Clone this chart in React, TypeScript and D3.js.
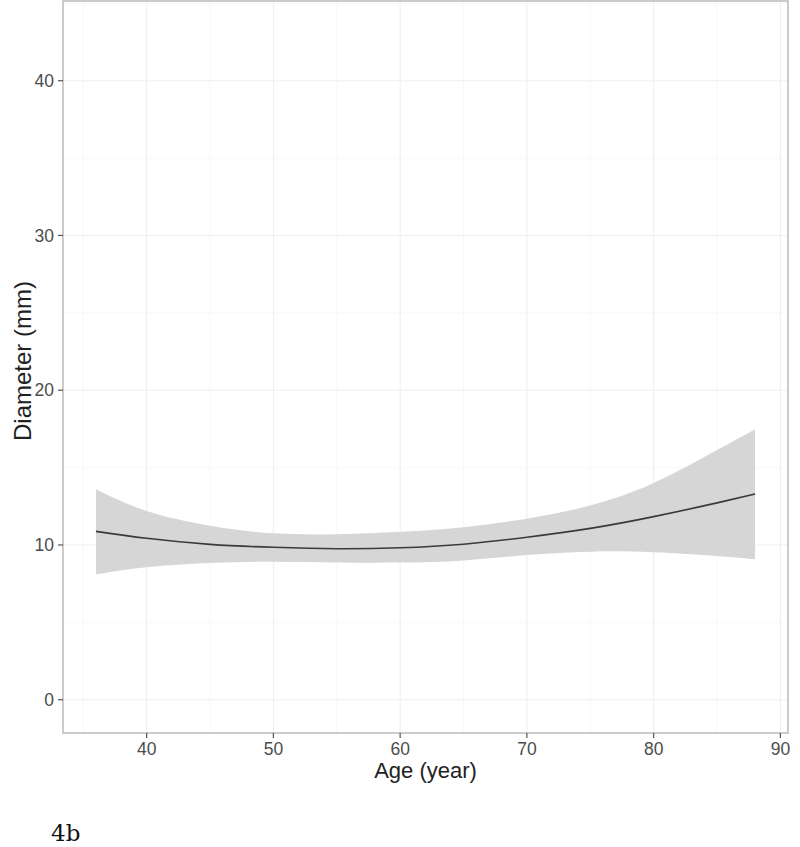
import * as d3 from 'd3'

// fitted curve
const AGE = [36, 40, 45, 50, 55, 60, 65, 70, 75, 80, 85, 88]
const FIT = [10.88, 10.43, 10.04, 9.85, 9.76, 9.82, 10.05, 10.5, 11.07, 11.83, 12.72, 13.29]
const UPPER = [13.6, 12.2, 11.25, 10.75, 10.7, 10.85, 11.15, 11.7, 12.55, 14.0, 16.13, 17.46]
const LOWER = [8.1, 8.56, 8.83, 8.92, 8.87, 8.86, 9.0, 9.35, 9.57, 9.53, 9.29, 9.08]

const X_TICKS = [40, 50, 60, 70, 80, 90]
const X_MINOR = [35, 45, 55, 65, 75, 85]
const Y_TICKS = [0, 10, 20, 30, 40]
const Y_MINOR = [5, 15, 25, 35, 45]

const FONT = "'Liberation Sans', Arial, Helvetica, sans-serif"

export default function App() {
  const left = 63
  const right = 788
  const top = 1
  const bottom = 733

  const x = d3.scaleLinear().domain([33.4, 90.6]).range([left, right])
  const y = d3.scaleLinear().domain([-2.15, 45.15]).range([bottom, top])

  const rows = AGE.map((a, i) => ({ a, fit: FIT[i], lo: LOWER[i], hi: UPPER[i] }))

  const band = d3
    .area<any>()
    .x((d) => x(d.a))
    .y0((d) => y(d.lo))
    .y1((d) => y(d.hi))
    .curve(d3.curveNatural)

  const line = d3
    .line<any>()
    .x((d) => x(d.a))
    .y((d) => y(d.fit))
    .curve(d3.curveNatural)

  return (
    <div style={{ position: 'absolute', left: 0, top: 0 }}>
      <svg width={800} height={847} style={{ display: 'block', background: '#fff' }}>
        <rect x={left} y={top} width={right - left} height={bottom - top} fill="#fff" />

        {X_MINOR.map((v) => (
          <line key={'xm' + v} x1={x(v)} x2={x(v)} y1={top} y2={bottom} stroke="#f6f6f6" strokeWidth={0.8} />
        ))}
        {Y_MINOR.map((v) => (
          <line key={'ym' + v} x1={left} x2={right} y1={y(v)} y2={y(v)} stroke="#f6f6f6" strokeWidth={0.8} />
        ))}
        {X_TICKS.map((v) => (
          <line key={'xg' + v} x1={x(v)} x2={x(v)} y1={top} y2={bottom} stroke="#efefef" strokeWidth={1.1} />
        ))}
        {Y_TICKS.map((v) => (
          <line key={'yg' + v} x1={left} x2={right} y1={y(v)} y2={y(v)} stroke="#efefef" strokeWidth={1.1} />
        ))}

        <path d={band(rows) || ''} fill="#d6d6d6" />
        <path d={line(rows) || ''} fill="none" stroke="#3a3a3a" strokeWidth={1.6} />

        <rect x={left} y={top} width={right - left} height={bottom - top} fill="none" stroke="#b0b0b0" strokeWidth={1.3} />

        {X_TICKS.map((v) => (
          <g key={'xt' + v} transform={`translate(${x(v)},${bottom})`}>
            <line y1={0} y2={5} stroke="#555" strokeWidth={1.2} />
            <text y={22} textAnchor="middle" style={{ fontFamily: FONT }} fontSize={17.5} fill="#4d4d4d">
              {v}
            </text>
          </g>
        ))}
        {Y_TICKS.map((v) => (
          <g key={'yt' + v} transform={`translate(${left},${y(v)})`}>
            <line x1={-5} x2={0} stroke="#555" strokeWidth={1.2} />
            <text x={-9} dy="0.35em" textAnchor="end" style={{ fontFamily: FONT }} fontSize={17.5} fill="#4d4d4d">
              {v}
            </text>
          </g>
        ))}

        <text x={(left + right) / 2} y={778} textAnchor="middle" style={{ fontFamily: FONT }} fontSize={22} fill="#222">
          Age (year)
        </text>
        <text
          transform={`translate(31,${(top + bottom) / 2 - 6}) rotate(-90)`}
          textAnchor="middle"
          style={{ fontFamily: FONT }}
          fontSize={24}
          fill="#222"
        >
          Diameter (mm)
        </text>

        <text x={51} y={841} fontFamily="DejaVu Serif" fontSize={23} fill="#111">
          4b
        </text>
      </svg>
    </div>
  )
}
